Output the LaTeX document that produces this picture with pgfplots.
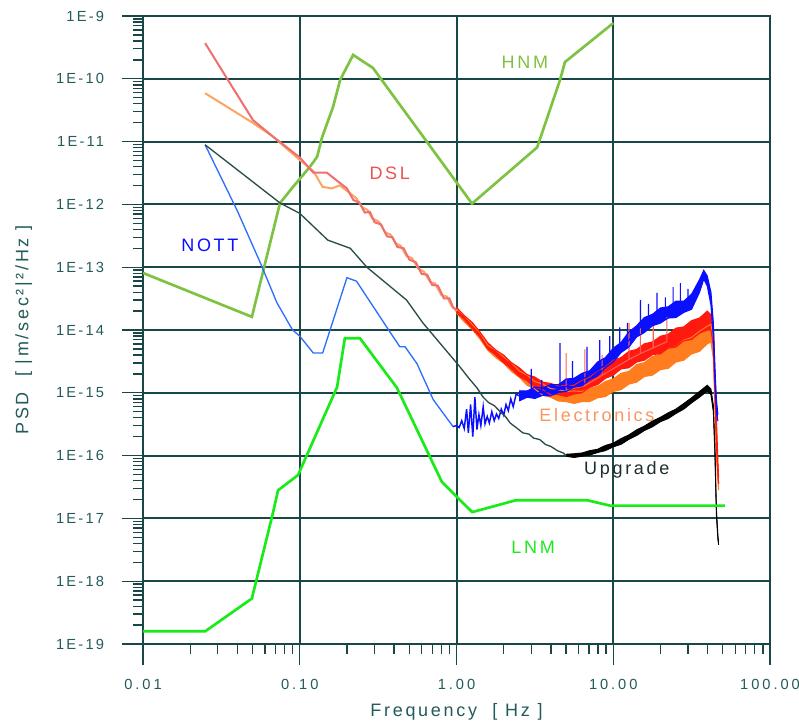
\documentclass[border=0pt]{standalone}
\usepackage{fontspec}
\setmainfont{Liberation Sans}
\usepackage{pgfplots}
\usepackage{pgfplotstable}
\pgfplotsset{compat=1.18}
\usepgfplotslibrary{fillbetween}

\definecolor{gridc}{RGB}{25,70,70}
\definecolor{tickc}{RGB}{35,90,90}
\definecolor{hnm}{RGB}{125,195,65}
\definecolor{lnm}{RGB}{25,235,25}
\definecolor{dslthin}{RGB}{240,110,110}
\definecolor{dslred}{RGB}{255,25,15}
\definecolor{dsllbl}{RGB}{240,80,80}
\definecolor{elthin}{RGB}{250,165,100}
\definecolor{elorange}{RGB}{255,125,30}
\definecolor{ellbl}{RGB}{250,150,95}
\definecolor{nottthin}{RGB}{45,110,255}
\definecolor{nottblue}{RGB}{10,15,255}
\definecolor{upthin}{RGB}{45,75,75}
\definecolor{uplbl}{RGB}{30,45,45}

\newcommand\xtickfont{\fontsize{11}{12}\selectfont\addfontfeature{LetterSpace=20}}
\newcommand\ytickfont{\fontsize{11}{12}\selectfont\addfontfeature{LetterSpace=15}}
\newcommand\lblfont{\fontsize{13.5}{15}\selectfont\addfontfeature{LetterSpace=15}}

% high-frequency noisy bands: f, lower edge, upper edge
\pgfplotstableread{
f lo hi
1.00 1.91e-14 2.29e-14
1.12 1.48e-14 1.70e-14
1.26 1.05e-14 1.32e-14
1.41 7.76e-15 9.33e-15
1.58 5.01e-15 6.31e-15
1.78 3.98e-15 4.79e-15
2.00 3.02e-15 3.98e-15
2.24 2.40e-15 3.02e-15
2.51 1.82e-15 2.51e-15
2.82 1.55e-15 1.95e-15
3.16 1.23e-15 1.78e-15
3.55 1.12e-15 1.48e-15
3.98 9.33e-16 1.41e-15
4.47 9.33e-16 1.29e-15
5.01 8.71e-16 1.32e-15
5.62 9.55e-16 1.32e-15
6.31 1.00e-15 1.58e-15
7.08 1.23e-15 1.78e-15
7.94 1.35e-15 2.24e-15
8.91 1.70e-15 2.57e-15
10.0 1.91e-15 3.31e-15
11.2 2.40e-15 3.63e-15
12.6 2.51e-15 4.57e-15
14.1 3.09e-15 4.90e-15
15.8 3.31e-15 6.03e-15
17.8 4.07e-15 6.46e-15
20.0 4.17e-15 7.94e-15
22.4 5.13e-15 8.51e-15
25.1 5.37e-15 1.07e-14
28.2 6.76e-15 1.12e-14
31.6 7.08e-15 1.41e-14
35.5 8.91e-15 1.55e-14
39.8 1.00e-14 2.00e-14
42.0 1.00e-14 1.74e-14
43.5 5.62e-15 1.12e-14
44.5 1.00e-15 2.51e-15
45.5 1.58e-16 3.98e-16
46.5 5.01e-17 7.94e-17
47.0 3.55e-17 4.47e-17
}\dslband

\pgfplotstableread{
f lo hi
1.00 1.86e-14 2.14e-14
1.12 1.35e-14 1.70e-14
1.26 1.02e-14 1.23e-14
1.41 7.24e-15 9.12e-15
1.58 4.79e-15 5.75e-15
1.78 3.63e-15 4.79e-15
2.00 2.95e-15 3.72e-15
2.24 2.19e-15 3.02e-15
2.51 1.78e-15 2.24e-15
2.82 1.32e-15 1.91e-15
3.16 1.15e-15 1.51e-15
3.55 9.12e-16 1.38e-15
3.98 8.51e-16 1.17e-15
4.47 7.41e-16 1.12e-15
5.01 7.24e-16 1.05e-15
5.62 6.76e-16 1.07e-15
6.31 7.24e-16 1.05e-15
7.08 7.24e-16 1.20e-15
7.94 8.32e-16 1.26e-15
8.91 8.71e-16 1.51e-15
10.0 1.05e-15 1.66e-15
11.2 1.12e-15 2.04e-15
12.6 1.38e-15 2.19e-15
14.1 1.48e-15 2.82e-15
15.8 1.82e-15 3.02e-15
17.8 1.91e-15 3.80e-15
20.0 2.34e-15 4.07e-15
22.4 2.45e-15 5.13e-15
25.1 3.09e-15 5.37e-15
28.2 3.31e-15 6.92e-15
31.6 4.17e-15 7.59e-15
35.5 4.57e-15 9.55e-15
39.8 6.03e-15 1.15e-14
42.0 6.46e-15 1.23e-14
43.5 3.55e-15 7.08e-15
44.5 6.31e-16 1.58e-15
45.5 1.00e-16 2.51e-16
46.5 3.98e-17 6.31e-17
47.0 2.82e-17 3.55e-17
}\elband

\pgfplotstableread{
f lo hi
2.51 7.41e-16 1.07e-15
2.82 8.51e-16 1.07e-15
3.16 8.13e-16 1.23e-15
3.55 9.12e-16 1.20e-15
3.98 8.91e-16 1.35e-15
4.47 1.02e-15 1.35e-15
5.01 1.05e-15 1.66e-15
5.62 1.23e-15 1.70e-15
6.31 1.29e-15 2.04e-15
7.08 1.62e-15 2.24e-15
7.94 1.86e-15 3.09e-15
8.91 2.51e-15 3.63e-15
10.0 3.09e-15 5.13e-15
11.2 4.37e-15 6.31e-15
12.6 5.37e-15 9.33e-15
14.1 7.76e-15 1.17e-14
15.8 9.12e-15 1.58e-14
17.8 1.17e-14 1.78e-14
20.0 1.29e-14 2.24e-14
22.4 1.55e-14 2.34e-14
25.1 1.58e-14 2.88e-14
28.2 1.91e-14 2.88e-14
31.6 2.14e-14 3.72e-14
35.5 3.98e-14 6.31e-14
37.8 6.46e-14 8.91e-14
39.8 5.01e-14 7.24e-14
42.0 2.51e-14 3.98e-14
43.5 7.59e-15 1.32e-14
44.5 1.58e-15 2.51e-15
45.5 5.01e-16 7.94e-16
46.5 3.55e-16 4.47e-16
}\nottband

\pgfplotstableread{
f lo hi
5.01 9.77e-17 1.05e-16
5.62 9.33e-17 1.07e-16
6.31 9.77e-17 1.10e-16
7.08 1.02e-16 1.20e-16
7.94 1.12e-16 1.26e-16
8.91 1.20e-16 1.45e-16
10.0 1.38e-16 1.58e-16
11.2 1.51e-16 1.86e-16
12.6 1.82e-16 2.14e-16
14.1 2.09e-16 2.57e-16
15.8 2.51e-16 2.95e-16
17.8 2.88e-16 3.55e-16
20.0 3.47e-16 4.07e-16
22.4 3.89e-16 4.79e-16
25.1 4.68e-16 5.50e-16
28.2 5.50e-16 6.76e-16
31.6 6.92e-16 8.32e-16
35.5 8.51e-16 1.05e-15
39.8 1.07e-15 1.32e-15
42.0 9.33e-16 1.15e-15
43.5 5.01e-16 6.31e-16
44.5 1.12e-16 1.41e-16
45.5 1.12e-17 1.41e-17
46.5 4.68e-18 5.37e-18
47.0 3.80e-18 4.17e-18
}\upband

\begin{document}
\begin{tikzpicture}
\begin{axis}[
  xmode=log, ymode=log,
  scale only axis, width=470.25pt, height=471pt,
  xmin=0.01, xmax=100, ymin=1e-19, ymax=1e-9,
  xtick={0.01,0.1,1,10,100},
  xticklabels={0.01,0.10,1.00,10.00,100.00},
  ytick={1e-19,1e-18,1e-17,1e-16,1e-15,1e-14,1e-13,1e-12,1e-11,1e-10,1e-9},
  yticklabels={1E-19,1E-18,1E-17,1E-16,1E-15,1E-14,1E-13,1E-12,1E-11,1E-10,1E-9},
  minor ytick={2e-19,3e-19,4e-19,5e-19,6e-19,7e-19,8e-19,9e-19,
    2e-18,3e-18,4e-18,5e-18,6e-18,7e-18,8e-18,9e-18,
    2e-17,3e-17,4e-17,5e-17,6e-17,7e-17,8e-17,9e-17,
    2e-16,3e-16,4e-16,5e-16,6e-16,7e-16,8e-16,9e-16,
    2e-15,3e-15,4e-15,5e-15,6e-15,7e-15,8e-15,9e-15,
    2e-14,3e-14,4e-14,5e-14,6e-14,7e-14,8e-14,9e-14,
    2e-13,3e-13,4e-13,5e-13,6e-13,7e-13,8e-13,9e-13,
    2e-12,3e-12,4e-12,5e-12,6e-12,7e-12,8e-12,9e-12,
    2e-11,3e-11,4e-11,5e-11,6e-11,7e-11,8e-11,9e-11,
    2e-10,3e-10,4e-10,5e-10,6e-10,7e-10,8e-10,9e-10},
  minor xtick={0.02,0.03,0.04,0.05,0.06,0.07,0.08,0.09,
    0.2,0.3,0.4,0.5,0.6,0.7,0.8,0.9,2,3,4,5,6,7,8,9,
    20,30,40,50,60,70,80,90},
  tick align=outside, tick pos=left,
  major tick length=15.75pt, minor tick length=7.5pt,
  grid=major,
  major grid style={gridc, line width=1.5pt},
  axis line style={gridc, line width=1.5pt},
  tick style={gridc, line width=1pt},
  xticklabel style={text=tickc, font=\xtickfont, yshift=-7.5pt},
  yticklabel style={text=tickc, font=\ytickfont, xshift=-10pt},
  clip mode=individual,
]
\coordinate (SW) at (rel axis cs:0,0);

% HNM
\addplot[hnm, line width=2pt] coordinates {
 (0.01,8.1e-14) (0.0495,1.62e-14) (0.0748,1.05e-12) (0.0906,1.9e-12)
 (0.116,3.96e-12) (0.129,5.7e-12) (0.139,1.18e-11) (0.163,3.55e-11)
 (0.181,9.6e-11) (0.219,2.4e-10) (0.293,1.49e-10) (1.256,1.03e-12)
 (3.27,8.1e-12) (4.57,9.5e-11) (4.92,1.85e-10) (10,7.7e-10)};

% Electronics (orange)
\addplot[elthin, line width=1.5pt] coordinates {
 (0.0249,5.9e-11) (0.05,2.0e-11) (0.0675,1.2e-11) (0.1,5.1e-12) (0.122,3.4e-12)
 (0.14,1.9e-12) (0.16,1.8e-12) (0.18,2.0e-12)
 (0.21,1.5e-12) (0.23,1.25e-12) (0.25,9.0e-13) (0.27,8.2e-13) (0.29,6.0e-13)
 (0.32,5.3e-13) (0.35,3.6e-13) (0.38,3.3e-13) (0.41,2.4e-13) (0.44,2.2e-13)
 (0.48,1.5e-13) (0.52,1.4e-13) (0.57,9.5e-14) (0.62,8.5e-14) (0.68,5.8e-14)
 (0.73,5.5e-14) (0.80,3.6e-14) (0.87,3.4e-14) (0.93,2.4e-14) (1.0,2.0e-14)};
\addplot[name path=elA, elorange, line width=0.8pt] table[x=f,y=hi]{\elband};
\addplot[name path=elB, elorange, line width=0.8pt] table[x=f,y=lo]{\elband};
\addplot[elorange] fill between[of=elA and elB];

% DSL (red)
\addplot[dslthin, line width=1.5pt] coordinates {
 (0.0249,3.7e-10) (0.0348,9.6e-11) (0.0503,2.2e-11) (0.0675,1.2e-11) (0.1,5.6e-12)
 (0.122,3.2e-12) (0.149,3.2e-12)
 (0.18,2.2e-12) (0.2,1.8e-12) (0.22,1.17e-12) (0.24,1.07e-12) (0.26,7.4e-13)
 (0.28,7.6e-13) (0.30,5.2e-13) (0.33,4.8e-13) (0.36,3.1e-13) (0.39,3.0e-13)
 (0.42,2.1e-13) (0.46,2.0e-13) (0.50,1.32e-13) (0.55,1.2e-13) (0.60,7.8e-14)
 (0.65,7.6e-14) (0.70,5.2e-14) (0.76,5.1e-14) (0.83,3.2e-14) (0.90,3.2e-14)
 (0.95,2.3e-14) (1.0,2.1e-14)};
\addplot[name path=dsA, dslred, line width=0.8pt] table[x=f,y=hi]{\dslband};
\addplot[name path=dsB, dslred, line width=0.8pt] table[x=f,y=lo]{\dslband};
\addplot[dslred] fill between[of=dsA and dsB];
\addplot[dslred!70!white, line width=0.8pt] coordinates {
 (5.0,1.1e-15) (5.0,4.3e-15) (5.0,1.1e-15) (6.6,1.3e-15) (6.6,4.9e-15) (6.6,1.3e-15)
 (8.5,1.9e-15) (8.5,4.0e-15) (8.5,1.9e-15) (12.6,3.4e-15) (12.6,1.3e-14) (12.6,3.4e-15)
 (14.9,4.2e-15) (14.9,2.7e-14) (14.9,4.2e-15) (18,5.2e-15) (18,1.2e-14) (18,5.2e-15)
 (22,6.5e-15) (22,1.6e-14) (22,6.5e-15)};

% NOTT (blue)
\addplot[nottthin, line width=1pt] coordinates {
 (0.0249,8.9e-12) (0.0398,8.1e-13) (0.056,1.18e-13) (0.0716,2.7e-14) (0.09,1.0e-14)
 (0.1,8.0e-15) (0.122,4.3e-15) (0.14,4.3e-15) (0.2,6.8e-14) (0.23,6.0e-14)
 (0.36,1.1e-14) (0.435,5.4e-15) (0.47,5.4e-15) (0.56,2.9e-15) (0.71,7.8e-16)
 (0.95,2.9e-16)};
\addplot[nottblue, line width=1.1pt] coordinates {
 (0.95,2.9e-16) (1.0,3.0e-16) (1.04,2.8e-16) (1.08,3.6e-16) (1.12,2.7e-16)
 (1.16,5.5e-16) (1.19,2.3e-16) (1.23,6.5e-16) (1.27,2.0e-16) (1.31,8.5e-16)
 (1.35,2.6e-16) (1.39,4.5e-16) (1.43,3.0e-16) (1.48,6.0e-16) (1.52,3.2e-16)
 (1.57,4.2e-16) (1.62,3.3e-16) (1.68,5.0e-16) (1.74,3.6e-16) (1.80,4.6e-16)
 (1.86,3.9e-16) (1.93,5.5e-16) (2.0,4.4e-16) (2.07,6.5e-16) (2.14,5.2e-16)
 (2.22,8.0e-16) (2.30,6.0e-16) (2.40,9.5e-16) (2.51,9.0e-16)};
\addplot[name path=ntA, nottblue, line width=0.8pt] table[x=f,y=hi]{\nottband};
\addplot[name path=ntB, nottblue, line width=0.8pt] table[x=f,y=lo]{\nottband};
\addplot[nottblue] fill between[of=ntA and ntB];
\addplot[nottblue, line width=0.9pt] coordinates {
 (3.0,1.0e-15) (3.0,2.4e-15) (3.0,1.0e-15) (3.5,1.0e-15) (3.5,1.6e-15) (3.5,1.0e-15)
 (4.57,1.15e-15) (4.57,6.2e-15) (4.57,1.15e-15) (5.5,1.4e-15) (5.5,3.2e-15) (5.5,1.4e-15)
 (6.8,1.8e-15) (6.8,5.4e-15) (6.8,1.8e-15) (8.2,2.4e-15) (8.2,6.9e-15) (8.2,2.4e-15)
 (9.5,3.2e-15) (9.5,8.0e-15) (9.5,3.2e-15) (11.0,5.0e-15) (11.0,1.1e-14) (11.0,5.0e-15)
 (12.3,6.5e-15) (12.3,1.3e-14) (12.3,6.5e-15) (14.9,1.1e-14) (14.9,3.0e-14) (14.9,1.1e-14)
 (16.8,1.4e-14) (16.8,2.6e-14) (16.8,1.4e-14) (19.0,1.6e-14) (19.0,3.9e-14) (19.0,1.6e-14)
 (21.5,1.8e-14) (21.5,3.3e-14) (21.5,1.8e-14) (24.1,2.0e-14) (24.1,4.8e-14) (24.1,2.0e-14)
 (26.8,2.3e-14) (26.8,5.6e-14) (26.8,2.3e-14) (30,2.5e-14) (30,4.5e-14) (30,2.5e-14)};

% Upgrade (black)
\addplot[upthin, line width=1pt] coordinates {
 (0.0249,8.9e-12) (0.075,1.05e-12) (0.1,7.2e-13) (0.151,2.7e-13) (0.18,2.3e-13)
 (0.21,2.0e-13) (0.268,1.0e-13) (0.48,3.0e-14) (0.61,1.3e-14) (1.05,2.6e-15)
 (1.2,1.7e-15) (1.35,1.2e-15) (1.48,8.5e-16) (1.6,7.0e-16) (1.75,6.2e-16)
 (1.9,5.0e-16) (2.05,4.2e-16) (2.2,3.3e-16) (2.4,2.8e-16) (2.65,2.3e-16)
 (2.9,2.2e-16) (3.1,1.9e-16) (3.4,1.8e-16) (3.7,1.5e-16) (4.0,1.4e-16)
 (4.4,1.2e-16) (4.8,1.1e-16) (5.01,1.0e-16)};
\addplot[name path=upA, black, line width=0.7pt] table[x=f,y=hi]{\upband};
\addplot[name path=upB, black, line width=0.7pt] table[x=f,y=lo]{\upband};
\addplot[black] fill between[of=upA and upB];

% LNM
\addplot[lnm, line width=2pt] coordinates {
 (0.01,1.6e-19) (0.025,1.6e-19) (0.0495,5.3e-19) (0.0675,1.23e-17) (0.0727,2.8e-17)
 (0.0975,4.9e-17) (0.173,1.23e-15) (0.194,7.4e-15) (0.242,7.4e-15) (0.417,1.2e-15)
 (0.807,3.8e-17) (1.26,1.26e-17) (2.4,1.95e-17) (6.8,1.95e-17) (9.5,1.6e-17)
 (51.6,1.6e-17)};

% labels
\node[text=hnm, font=\lblfont] at (axis cs:2.73,1.85e-10) {HNM};
\node[text=dsllbl, font=\lblfont] at (axis cs:0.375,3.16e-12) {DSL};
\node[text=nottblue, font=\lblfont] at (axis cs:0.0267,2.2e-13) {NOTT};
\node[text=ellbl, font=\lblfont] at (axis cs:7.87,4.5e-16) {Electronics};
\node[text=uplbl, font=\lblfont] at (axis cs:12.2,5.9e-17) {Upgrade};
\node[text=lnm, font=\lblfont] at (axis cs:3.08,3.5e-18) {LNM};
\node[text=tickc, font=\lblfont] at (axis description cs:0.5,-0.108) {Frequency\ \ [ Hz ]};
\node[text=tickc, font=\lblfont, rotate=90] at (axis description cs:-0.19,0.5) {PSD\ \ [ |m/sec²|²/Hz ]};
\end{axis}
\pgfresetboundingbox
\path[use as bounding box] (SW) ++(-107.25pt,-60.75pt) rectangle ++(599.25pt,543.75pt);
\end{tikzpicture}
\end{document}
